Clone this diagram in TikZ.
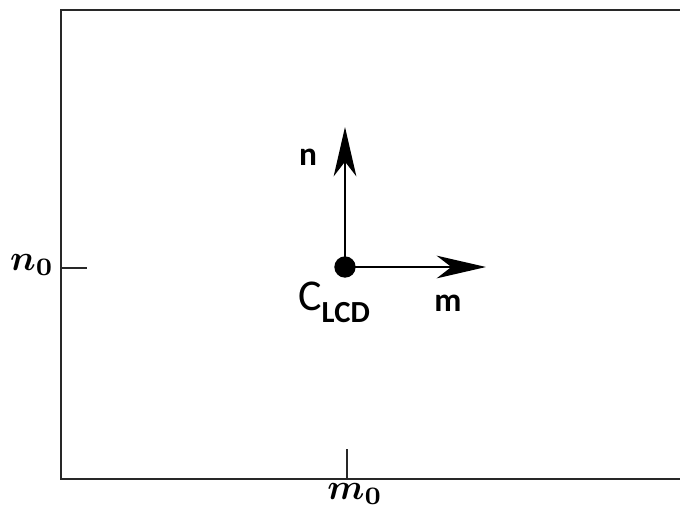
\documentclass[tikz,border=0pt]{standalone}
\usepackage{amsmath,bm}
\usepackage{graphicx}
\usepackage{fontspec}
\setmainfont{Carlito}
\usetikzlibrary{arrows.meta, positioning}
\definecolor{frame}{RGB}{40,40,40}
\newcommand{\bigsym}[1]{\scalebox{2.7}{$\bm{#1}$}}

\begin{document}
\begin{tikzpicture}[x=0.75pt, y=-0.75pt,
  lbl/.style={font=\fontsize{25}{28}\selectfont\bfseries, inner sep=0pt},
  sym/.style={inner sep=0pt},
  axis/.style={line width=1.5pt, -{Stealth[length=37pt, width=17pt, inset=11pt]}}]
  \useasboundingbox (0,0) rectangle (680,511);
  % frame, open at the right
  \draw[frame, line width=1.9pt] (680,10) -- (61,10) -- (61,479) -- (680,479);
  % ticks
  \coordinate (n0a) at (61,268); \coordinate (n0b) at (87,268);
  \coordinate (m0a) at (347,479); \coordinate (m0b) at (347,449);
  \draw[frame, line width=1.5pt] (n0a) -- (n0b);
  \draw[frame, line width=1.5pt] (m0a) -- (m0b);
  \node[sym] (n0) at (32,265) {\bigsym{n_0}};
  \node[sym] (m0) at (355,494) {\bigsym{m_0}};
  % centre and axes
  \node[circle, fill, inner sep=0pt, minimum size=16pt] (c) at (345,267) {};
  \coordinate (ntip) at (345,127);
  \coordinate (mtip) at (486,267);
  \draw[axis] (c.center) -- (ntip);
  \draw[axis] (c.center) -- (mtip);
  \node[lbl] (n) at (308,157) {n};
  \node[lbl] (m) at (448,303) {m};
  \node[inner sep=0pt, anchor=base west] (clcd) at (298,310)
    {\fontsize{33}{36}\selectfont C\raisebox{-0.28em}{\fontsize{23}{24}\selectfont\bfseries LCD}};
\end{tikzpicture}
\end{document}
